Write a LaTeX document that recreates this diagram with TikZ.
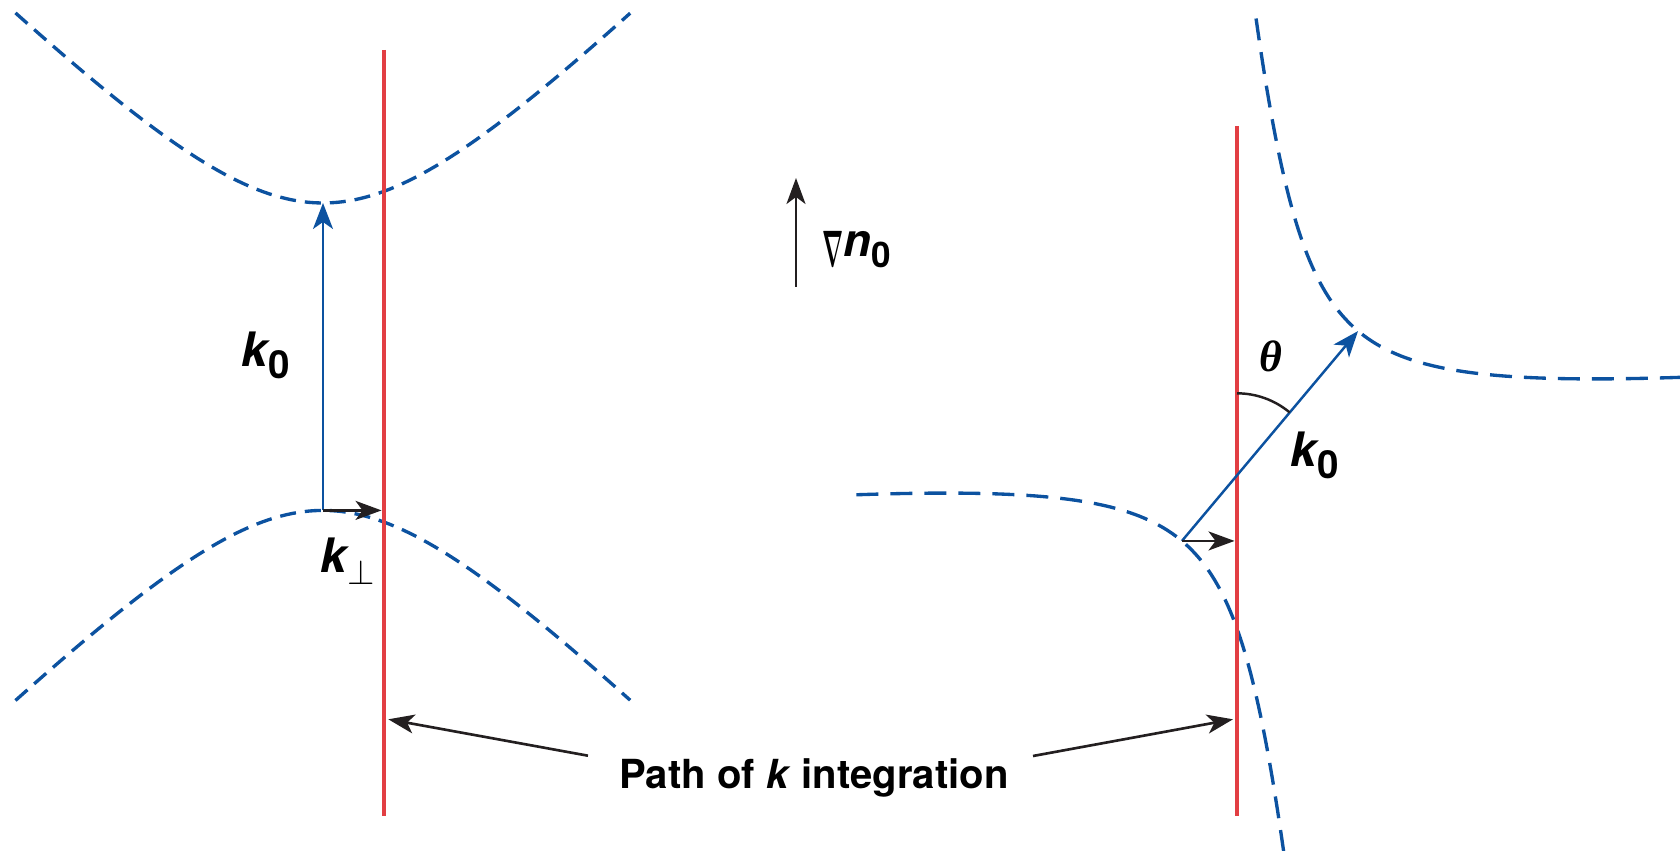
\documentclass[tikz,border=0pt]{standalone}
\usepackage{fontspec}
\setmainfont{TeX Gyre Heros}
\newfontfamily\greekfont{Liberation Serif}
\usepackage{amsmath}
\usepackage{bm}
\usepackage{graphicx}
\usetikzlibrary{arrows.meta}

\definecolor{pathred}{RGB}{226,62,67}
\definecolor{curveblue}{RGB}{12,82,160}
\definecolor{tipblack}{RGB}{35,31,32}

\newcommand{\kvec}[1]{{\fontsize{13.5}{14}\selectfont\bfseries\itshape k}\raisebox{-3.3pt}{#1}}
\newcommand{\zerosub}{{\fontsize{11}{11}\selectfont\bfseries 0}}

\begin{document}
\begin{tikzpicture}[x=0.1mm, y=0.1mm,
    pathline/.style={draw=pathred, line width=1.4pt},
    contour/.style={draw=curveblue, line width=0.95pt, dash pattern=on 1.6mm off 0.9mm},
    kzero/.style={curveblue, line width=0.7pt, -{Stealth[length=2.6mm, width=2mm, inset=0.7mm]}},
    arrow/.style={tipblack, line width=0.75pt, -{Stealth[length=2.6mm, width=1.9mm, inset=0.7mm]}},
    tag/.style={inner sep=0pt, anchor=base west}
  ]
    \useasboundingbox (0,0) rectangle (1680,850);

    \draw[contour] plot[domain=-1.444:1.444, samples=80, variable=\t] ({323+153.7*sinh(\t)}, {493.3+153.7*cosh(\t)});
    \draw[contour] plot[domain=-1.444:1.444, samples=80, variable=\t] ({323+153.7*sinh(\t)}, {493.3-153.7*cosh(\t)});
    \begin{scope}[shift={(1270,414)}, rotate=-40]
      \draw[contour, dash pattern=on 2.2mm off 1.2mm] plot[domain=-1.46:1.46, samples=80, variable=\t] ({137*sinh(\t)}, {137*cosh(\t)});
      \draw[contour, dash pattern=on 2.2mm off 1.2mm] plot[domain=-1.46:1.46, samples=80, variable=\t] ({137*sinh(\t)}, {-137*cosh(\t)});
      \coordinate (Rtop) at (0,137);
      \coordinate (Rbot) at (0,-137);
    \end{scope}

    \coordinate (redLtop) at (384,800);
    \coordinate (redLbot) at (384,34);
    \coordinate (redRtop) at (1237,724);
    \coordinate (redRbot) at (1237,34);
    \draw[pathline] (redLtop) -- (redLbot);
    \draw[pathline] (redRtop) -- (redRbot);

    \coordinate (Ltop) at (323,647);
    \coordinate (Lbot) at (323,339.6);
    \draw[kzero] (Lbot) -- (Ltop);
    \draw[arrow, shorten >=0.7pt] (Lbot) -- (Lbot -| redLtop);

    \draw[kzero] (Rbot) -- (Rtop);
    \draw[arrow, shorten >=0.7pt] (Rbot) -- (Rbot -| redRtop);
    \coordinate (cross) at (intersection of Rbot--Rtop and redRtop--redRbot);
    \draw[tipblack, line width=0.7pt] (cross) ++(0,82) arc[start angle=90, end angle=50, radius=82];

    \coordinate (gradtail) at (796,563);
    \coordinate (gradhead) at (796,672);
    \draw[arrow] (gradtail) -- (gradhead);

    \node[tag] (kzeroL) at (241,483.3) {\kvec{\zerosub}};
    \node[tag] (kperp) at (320,277) {\kvec{{\fontsize{10}{10}\selectfont$\perp$}}};
    \node[tag] (kzeroR) at (1290,383.3) {\kvec{\zerosub}};
    \node[tag, font=\fontsize{12.5}{13}\selectfont\greekfont\bfseries\itshape] (thetalbl) at (1259,478.3) {θ};
    \node[tag] (gradn) at (821.7,593.3) {\raisebox{-2.85pt}{\resizebox{6pt}{10pt}{$\bm{\nabla}$}}{\fontsize{13}{13}\selectfont\bfseries\itshape n}\raisebox{-3pt}{\fontsize{10}{10}\selectfont\bfseries 0}};
    \node[inner sep=0pt, anchor=base, font=\fontsize{11.4}{13}\selectfont\bfseries] (pathlbl) at (814,61.7) {Path of \textit{k} integration};

    \coordinate (pathLtail) at (588,94.3);
    \coordinate (pathLtip) at (388.3,130.7);
    \coordinate (pathRtail) at (1033,94);
    \coordinate (pathRtip) at (1233,130.7);
    \draw[arrow] (pathLtail) -- (pathLtip);
    \draw[arrow] (pathRtail) -- (pathRtip);
\end{tikzpicture}
\end{document}
